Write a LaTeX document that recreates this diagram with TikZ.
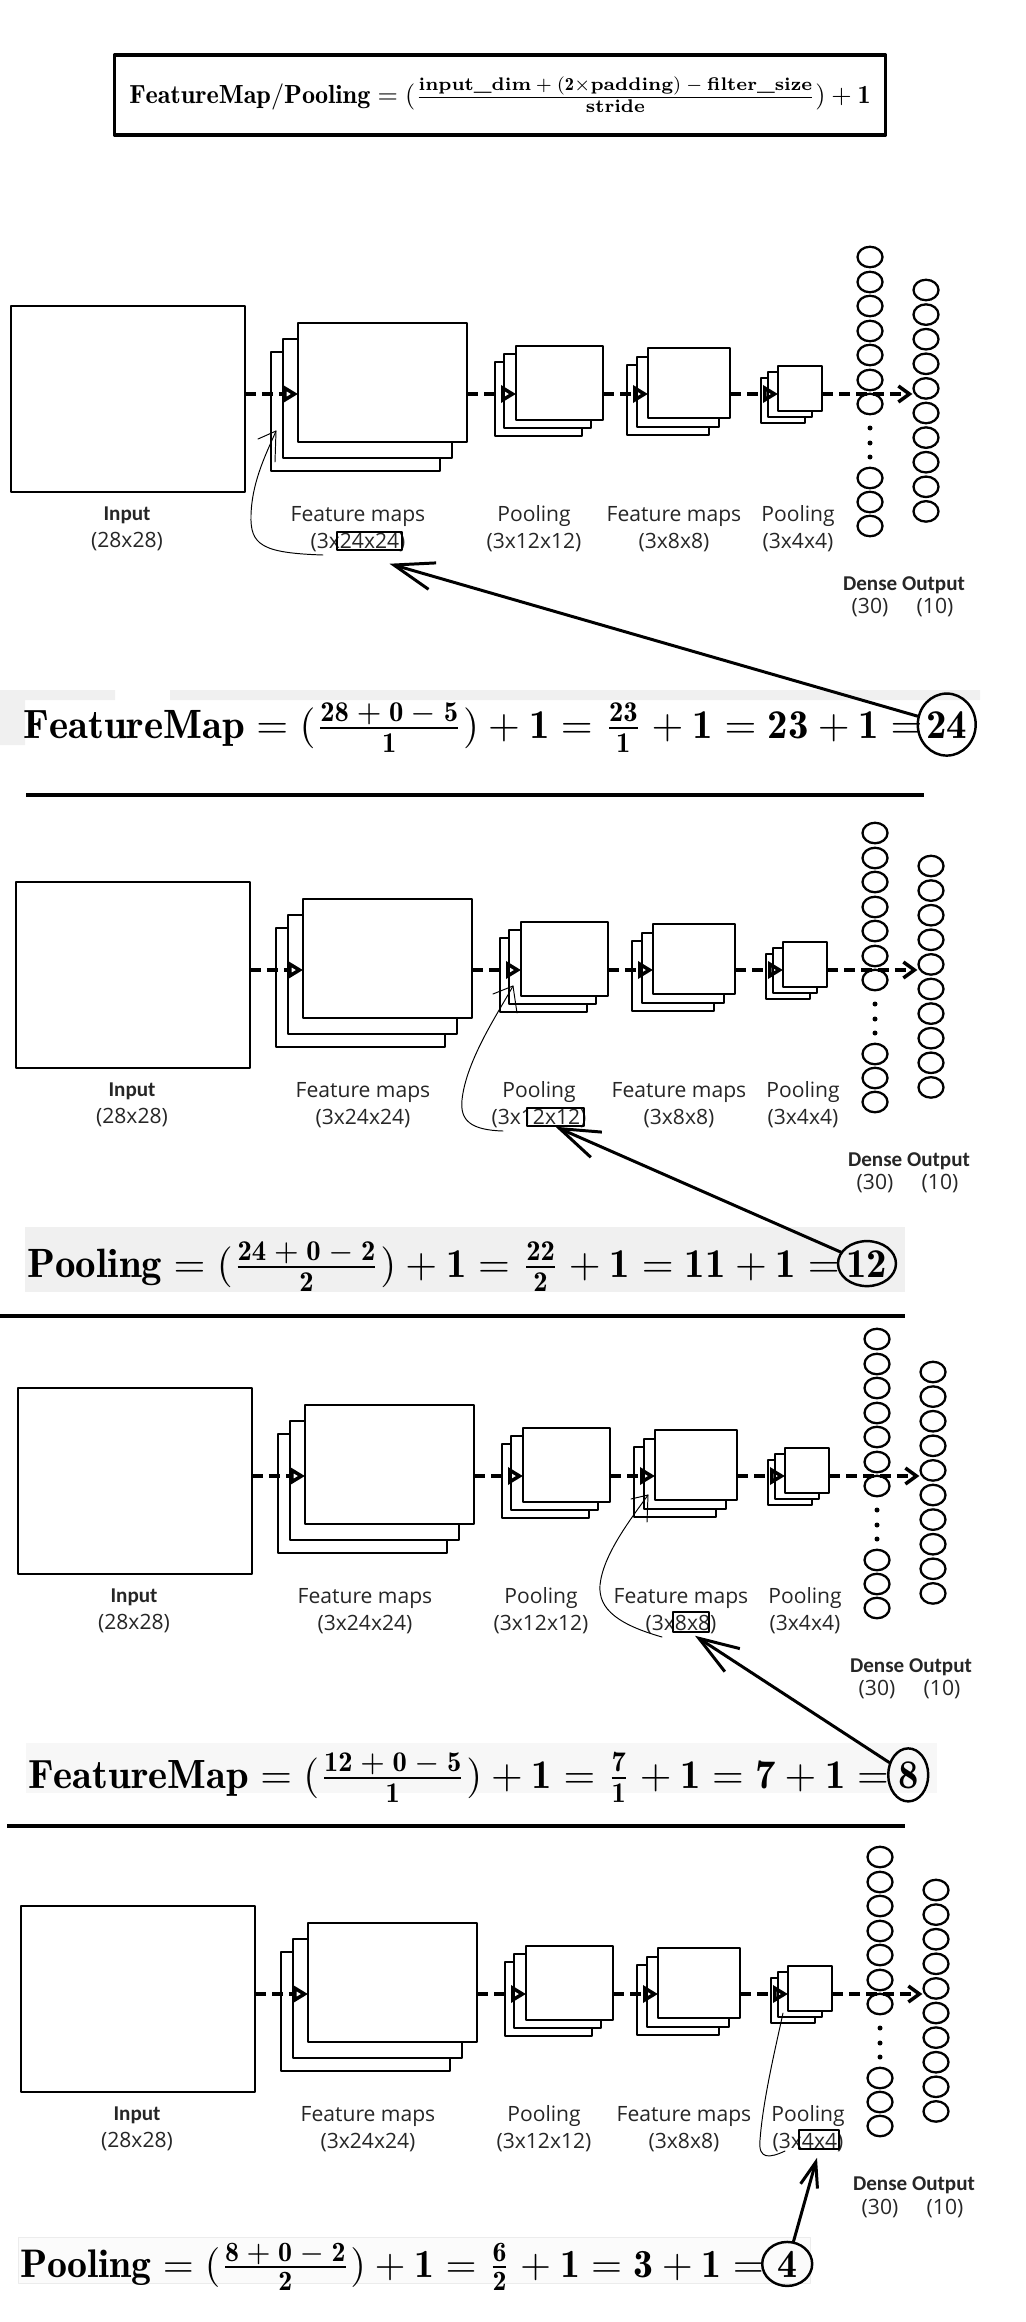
\documentclass[tikz,border=0pt]{standalone}
\usepackage{amsmath}
\usepackage{fontspec}
\newfontfamily\lblfont{Open Sans}
\newfontfamily\boldlbl{Carlito}
\usetikzlibrary{arrows.meta,positioning,shapes.geometric}
\newcommand{\pxl}{0.02cm}
\newcommand{\bnum}[1]{\mathbf{#1}}

\begin{document}
\begin{tikzpicture}[x=0.02cm,y=-0.02cm,line cap=round,line join=round,
    layer/.style 2 args={draw, fill=white, line width=1.5pt, inner sep=0, outer sep=0,
      anchor=north west, minimum width=#1*\pxl, minimum height=#2*\pxl},
    neuron/.style={ellipse, draw, line width=1.3pt, inner sep=0,
      minimum width=25*\pxl, minimum height=20.5*\pxl},
    dot/.style={circle, fill, inner sep=0, minimum size=5*\pxl},
    flow/.style={line width=2pt, line cap=butt, dash pattern=on 0.22cm off 0.12cm,
      -{Triangle[open,length=0.3cm,width=0.34cm]}},
    lbl/.style={font=\lblfont\fontsize{12}{15.3}\selectfont, align=center, inner sep=0, text=black!85},
    eq/.style={anchor=base west, inner sep=0, font=\fontsize{10}{12}\selectfont},
    result/.style={ellipse, draw, line width=1.4pt, inner sep=0, anchor=base},
    hlbox/.style 2 args={draw, line width=0.85pt, inner sep=0,
      minimum width=#1*\pxl, minimum height=#2*\pxl},
    pointer/.style={line width=1.7pt, -{Straight Barb[length=0.8cm,width=0.55cm]}},
    pen/.style={line width=0.55pt},
    rule/.style={line width=2.3pt, line cap=butt}]
  \useasboundingbox (0,0) rectangle (1026,2322);

  % general formula
  \node[draw, line width=1.9pt, minimum width=771*\pxl, minimum height=80*\pxl, inner sep=0] (gen) at (500,95)
    {\scalebox{1.49}{$\mathbf{FeatureMap/Pooling} = (\frac{\textbf{input\_dim}\:+\:(\bnum{2}{\times}\textbf{padding})\:-\:\textbf{filter\_size}}{\textbf{stride}}) + \bnum{1}$}};

  % the four copies of the network
  \foreach \p/\dx/\dy in {1/0/0,2/5/576,3/7/1082,4/10/1600}{
    \begin{scope}[shift={(\dx,\dy)}]
      \coordinate (row\p) at (0,394);
      \node[layer={234}{186}] (in\p) at (11,306) {};
      \node[layer={169}{119}] (fmc\p) at (271,352) {};
      \node[layer={169}{119}] (fmb\p) at (283,339) {};
      \node[layer={169}{119}] (fma\p) at (298,323) {};
      \node[layer={87}{74}] (pc\p) at (495,362) {};
      \node[layer={87}{74}] (pb\p) at (504,354) {};
      \node[layer={87}{74}] (pa\p) at (516,346) {};
      \node[layer={82}{70}] (gc\p) at (627,365) {};
      \node[layer={82}{70}] (gb\p) at (637,357) {};
      \node[layer={82}{70}] (ga\p) at (648,348) {};
      \node[layer={44}{45}] (qc\p) at (761,378) {};
      \node[layer={44}{45}] (qb\p) at (768,372) {};
      \node[layer={44}{45}] (qa\p) at (778,366) {};
      \foreach \k/\yy in {1/257,2/282,3/306,4/331,5/355,6/380,7/404,8/478,9/502,10/526}
        \node[neuron] (den\p-\k) at (870,\yy) {};
      \foreach \k/\yy in {1/428,2/443,3/457}
        \node[dot] (dd\p-\k) at (870,\yy) {};
      \foreach \k in {1,...,10}
        \node[neuron] (out\p-\k) at (926,{290+24.6*(\k-1)}) {};
      \draw[flow] (in\p.east |- row\p) -- (fma\p.west |- row\p);
      \draw[flow] (fma\p.east |- row\p) -- (pa\p.west |- row\p);
      \draw[flow] (pa\p.east |- row\p) -- (ga\p.west |- row\p);
      \draw[flow] (ga\p.east |- row\p) -- (qa\p.west |- row\p);
      \draw[flow, -{Straight Barb[length=0.22cm,width=0.32cm]}] (qa\p.east |- row\p) -- (out\p-5.west |- row\p);
      \node[lbl] (lin\p) at (127,529) {{\boldlbl\bfseries Input}\\(28x28)};
      \node[lbl] (lfa\p) at (358,529) {Feature maps\\(3x24x24)};
      \node[lbl] (lpa\p) at (534,529) {Pooling\\(3x12x12)};
      \node[lbl] (lga\p) at (674,529) {Feature maps\\(3x8x8)};
      \node[lbl] (lqa\p) at (798,529) {Pooling\\(3x4x4)};
      \node[lbl, font=\boldlbl\bfseries\fontsize{12}{14}\selectfont] (ldo\p) at (904,585) {Dense Output};
      \node[lbl] (lds\p) at (870,608) {(30)};
      \node[lbl] (lou\p) at (935,608) {(10)};
    \end{scope}
  }

  % grey bands behind the worked examples
  \fill[gray!12] (0,690) rectangle (115,700) (170,690) rectangle (980,700) (0,690) rectangle (25,745);
  \fill[gray!12] (25,1227) rectangle (905,1292);
  \fill[gray!6] (26,1743) rectangle (937,1793);
  \filldraw[fill=gray!3, draw=gray!15] (18,2237) rectangle (810,2283);

  % separators
  \draw[rule] (26,795) -- (924,795);
  \draw[rule] (0,1316) -- (905,1316);
  \draw[rule] (7,1826) -- (905,1826);

  % worked examples
  \node[eq] (eq1) at (23,738) {\scalebox{2.33}{$\mathbf{FeatureMap} = (\frac{\bnum{28}\:+\:\bnum{0}\:-\:\bnum{5}}{\bnum{1}}) + \bnum{1} = \frac{\bnum{23}}{\bnum{1}} + \bnum{1} = \bnum{23} + \bnum{1} =$}};
  \node[result, minimum width=52*\pxl, minimum height=62*\pxl] (res1) at ([xshift=0.48cm]eq1.base east) {\scalebox{2.33}{$\bnum{24}$}};
  \node[eq] (eq2) at (27,1277) {\scalebox{2.33}{$\mathbf{Pooling} = (\frac{\bnum{24}\:+\:\bnum{0}\:-\:\bnum{2}}{\bnum{2}}) + \bnum{1} = \frac{\bnum{22}}{\bnum{2}} + \bnum{1} = \bnum{11} + \bnum{1} =$}};
  \node[result, minimum width=58*\pxl, minimum height=45*\pxl] (res2) at ([xshift=0.54cm]eq2.base east) {\scalebox{2.33}{$\bnum{12}$}};
  \node[eq] (eq3) at (28,1788) {\scalebox{2.32}{$\mathbf{FeatureMap} = (\frac{\bnum{12}\:+\:\bnum{0}\:-\:\bnum{5}}{\bnum{1}}) + \bnum{1} = \frac{\bnum{7}}{\bnum{1}} + \bnum{1} = \bnum{7} + \bnum{1} =$}};
  \node[result, minimum width=40*\pxl, minimum height=53*\pxl] (res3) at ([xshift=0.38cm]eq3.base east) {\scalebox{2.32}{$\bnum{8}$}};
  \node[eq] (eq4) at (20,2277) {\scalebox{2.27}{$\mathbf{Pooling} = (\frac{\bnum{8}\:+\:\bnum{0}\:-\:\bnum{2}}{\bnum{2}}) + \bnum{1} = \frac{\bnum{6}}{\bnum{2}} + \bnum{1} = \bnum{3} + \bnum{1} =$}};
  \node[result, minimum width=50*\pxl, minimum height=44*\pxl] (res4) at ([xshift=0.46cm]eq4.base east) {\scalebox{2.27}{$\bnum{4}$}};

  % marked sizes
  \node[hlbox={65}{18}] (hl1) at (369.5,541) {};
  \node[hlbox={57}{18}] (hl2) at (555.5,1117) {};
  \node[hlbox={36}{20}] (hl3) at (691,1622) {};
  \node[hlbox={40}{19}] (hl4) at (819,2139.5) {};

  \draw[pointer] (res1) -- ([xshift=0.4cm,yshift=-0.26cm]hl1.south);
  \draw[pointer] (res2) -- (hl2.south);
  \draw[pointer] (res3) -- ([xshift=0.08cm,yshift=-0.06cm]hl3.south);
  \draw[pointer, -{Straight Barb[length=0.5cm,width=0.35cm]}] (res4) -- ([xshift=-0.04cm,yshift=-0.16cm]hl4.south);

  % hand drawn hints
  \draw[pen] (323,555) .. controls (262,553) and (250,545) .. (251,515) .. controls (252,480) and (268,450) .. (276,431);
  \draw[pen] (258,439) -- (276,431) -- (275,462);
  \draw[pen] (503,1131) .. controls (470,1130) and (460,1120) .. (462,1100) .. controls (466,1060) and (500,1010) .. (513,986);
  \draw[pen] (493,994) -- (513,986) -- (517,1013);
  \draw[pen] (662,1637) .. controls (620,1625) and (598,1610) .. (600,1585) .. controls (603,1555) and (630,1520) .. (648,1495);
  \draw[pen] (631,1499) -- (648,1495) -- (647,1522);
  \draw[pen] (785,2151) .. controls (770,2158) and (758,2160) .. (760,2140) .. controls (763,2100) and (775,2050) .. (783,2013);
\end{tikzpicture}
\end{document}
